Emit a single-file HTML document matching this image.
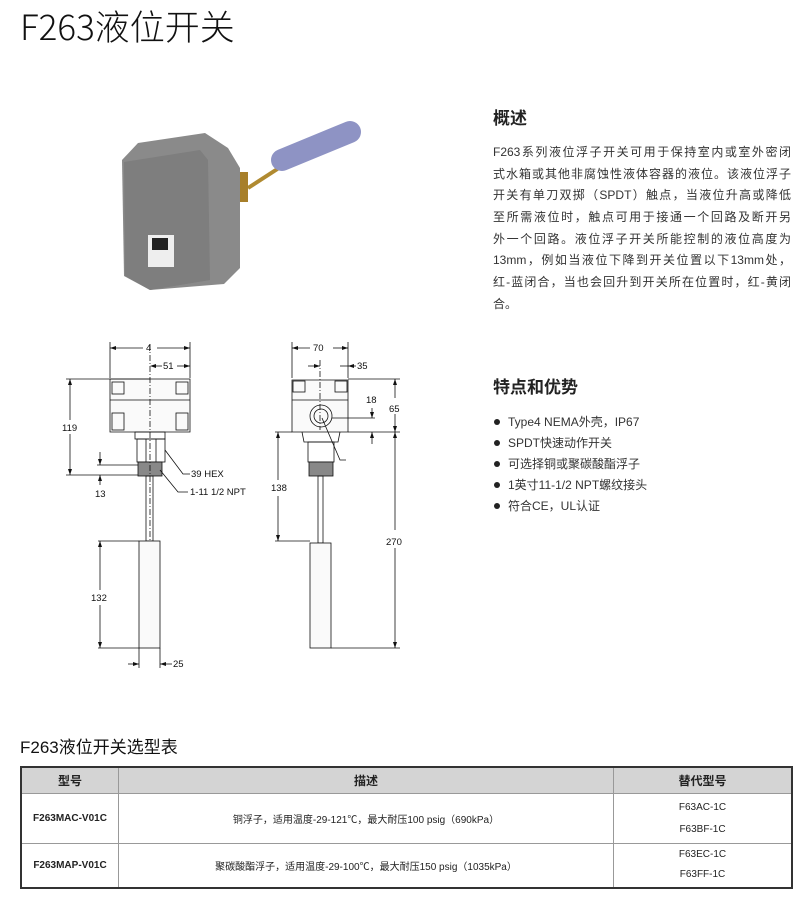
<!DOCTYPE html>
<html><head><meta charset="utf-8"><style>
body{margin:0;width:804px;height:898px;background:#fff;position:relative;font-family:"Liberation Sans","Noto Sans CJK SC",sans-serif;color:#222;overflow:hidden}
.a{position:absolute}
h1{position:absolute;left:20px;top:0px;margin:0;font-size:35px;font-weight:300;color:#111;font-family:"Noto Sans CJK SC","Liberation Sans",sans-serif}
.h{font-size:17px;font-weight:bold;color:#222}
.p div{height:21.7px;font-size:12px;line-height:21.7px;text-align:justify;text-align-last:justify;color:#333;white-space:nowrap}
.li{font-size:12px;color:#333;height:21px;line-height:21px}
.li span{display:inline-block;width:6px;height:6px;border-radius:3px;background:#222;margin:0 8px 1px 4px}
table{position:absolute;left:20px;top:766px;width:773px;border-collapse:collapse;border:2px solid #333;font-size:10px}
td,th{border:1px solid #999;text-align:center;padding:0}
th{background:#d4d4d4;height:25px;font-size:12px}
</style></head><body>
<h1>F263液位开关</h1>

<svg class="a" style="left:0;top:0" width="480" height="700">
<!-- photo -->
<g>
<line x1="248" y1="188" x2="282" y2="166" stroke="#b08a30" stroke-width="4"/>
<rect x="236" y="172" width="12" height="30" fill="#a77f2a"/>
<line x1="282" y1="160" x2="350" y2="132" stroke="#8e93c4" stroke-width="22" stroke-linecap="round"/>
<polygon points="138,143 205,133 228,148 240,168 240,268 224,284 150,290 124,276 122,160" fill="#8a8a8a"/>
<polygon points="124,162 200,150 208,160 210,280 150,290 125,276" fill="#7e7e7e"/>
<rect x="148" y="235" width="26" height="32" fill="#eee"/>
<rect x="152" y="238" width="16" height="12" fill="#222"/>
</g>
<g stroke="#111" stroke-width="0.8" fill="none">
<path d="M110 379 H190 V432 H110 Z" fill="#fafafa"/>
<rect x="112" y="382" width="12" height="12"/><rect x="176" y="382" width="12" height="12"/>
<rect x="112" y="413" width="12" height="17"/><rect x="176" y="413" width="12" height="17"/>
<line x1="110" y1="400" x2="190" y2="400"/>
<rect x="135" y="432" width="30" height="7"/>
<rect x="137" y="439" width="28" height="23"/>
<line x1="146" y1="439" x2="146" y2="462"/><line x1="156" y1="439" x2="156" y2="462"/>
<rect x="138" y="462" width="24" height="14" fill="#888"/>
<rect x="146" y="476" width="7" height="65"/>
<rect x="139" y="541" width="21" height="107" fill="#fafafa"/>
<line x1="150" y1="344" x2="150" y2="540" stroke-dasharray="6 2 1 2"/>
<line x1="110" y1="342" x2="110" y2="378"/><line x1="190" y1="342" x2="190" y2="378"/>
<line x1="110" y1="348" x2="143" y2="348"/><line x1="157" y1="348" x2="190" y2="348"/>
<line x1="152" y1="366" x2="162" y2="366"/><line x1="177" y1="366" x2="190" y2="366"/>
<line x1="66" y1="379" x2="150" y2="379"/><line x1="66" y1="475" x2="138" y2="475"/>
<line x1="70" y1="379" x2="70" y2="420"/><line x1="70" y1="434" x2="70" y2="475"/>
<line x1="97" y1="465" x2="138" y2="465"/>
<line x1="100" y1="452" x2="100" y2="465"/><line x1="100" y1="475" x2="100" y2="485"/>
<line x1="98" y1="541" x2="139" y2="541"/><line x1="98" y1="648" x2="139" y2="648"/>
<line x1="100" y1="541" x2="100" y2="590"/><line x1="100" y1="605" x2="100" y2="648"/>
<line x1="139" y1="648" x2="139" y2="668"/><line x1="160" y1="648" x2="160" y2="668"/>
<line x1="128" y1="664" x2="139" y2="664"/><line x1="160" y1="664" x2="172" y2="664"/>
<polyline points="165,450 183,474 190,474"/>
<polyline points="160,470 178,492 188,492"/>
<path d="M292 380 H348 V432 H292 Z" fill="#fafafa"/>
<rect x="293" y="381" width="12" height="11"/><rect x="335" y="381" width="12" height="11"/>
<line x1="292" y1="400" x2="348" y2="400"/>
<circle cx="321" cy="416" r="11"/><circle cx="321" cy="416" r="7"/>
<path d="M302 432 L304 442 H338 L340 432"/>
<rect x="308" y="442" width="26" height="20"/>
<rect x="309" y="462" width="24" height="14" fill="#888"/>
<rect x="318" y="476" width="5" height="67"/>
<rect x="310" y="543" width="21" height="105" fill="#fafafa"/>
<line x1="320" y1="360" x2="320" y2="430" stroke-dasharray="6 2 1 2"/>
<line x1="292" y1="342" x2="292" y2="378"/><line x1="348" y1="342" x2="348" y2="378"/>
<line x1="292" y1="348" x2="310" y2="348"/><line x1="333" y1="348" x2="348" y2="348"/>
<line x1="308" y1="366" x2="320" y2="366"/><line x1="340" y1="366" x2="356" y2="366"/>
<line x1="348" y1="379" x2="400" y2="379"/><line x1="348" y1="432" x2="400" y2="432"/>
<line x1="395" y1="379" x2="395" y2="398"/><line x1="395" y1="414" x2="395" y2="530"/><line x1="395" y1="548" x2="395" y2="648"/>
<line x1="331" y1="648" x2="400" y2="648"/>
<line x1="332" y1="418" x2="375" y2="418"/>
<line x1="372" y1="408" x2="372" y2="418"/><line x1="372" y1="432" x2="372" y2="444"/>
<line x1="275" y1="432" x2="292" y2="432"/><line x1="275" y1="541" x2="310" y2="541"/>
<line x1="278" y1="432" x2="278" y2="480"/><line x1="278" y1="496" x2="278" y2="541"/>
<polyline points="322,418 340,460 346,460"/>
</g>
<g fill="#111">
<path d="M110 348 l6 -2 v4z M190 348 l-6 -2 v4z M190 366 l-6 -2 v4z M150 366 l6 -2 v4z"/>
<path d="M70 379 l-2 6 h4z M70 475 l-2 -6 h4z M100 465 l-2 -6 h4z M100 475 l-2 6 h4z M100 541 l-2 6 h4z M100 648 l-2 -6 h4z M139 664 l-6 -2 v4z M160 664 l6 -2 v4z"/>
<path d="M292 348 l6 -2 v4z M348 348 l-6 -2 v4z M348 366 l6 -2 v4z M320 366 l-6 -2 v4z"/>
<path d="M395 379 l-2 6 h4z M395 432 l-2 -6 h4z M395 432 l-2 6 h4z M395 648 l-2 -6 h4z M372 418 l-2 -6 h4z M372 432 l-2 6 h4z M278 432 l-2 6 h4z M278 541 l-2 -6 h4z"/>
</g>
<g font-family="Liberation Sans,sans-serif" font-size="9.5" fill="#111">
<text x="146" y="351">4</text><text x="163" y="369">51</text>
<text x="62" y="431">119</text><text x="95" y="497">13</text><text x="91" y="601">132</text>
<text x="173" y="667">25</text>
<text x="191" y="477">39 HEX</text><text x="190" y="495">1-11 1/2 NPT</text>
<text x="313" y="351">70</text><text x="357" y="369">35</text>
<text x="366" y="403">18</text><text x="389" y="412">65</text>
<text x="271" y="491">138</text><text x="386" y="545">270</text>
</g>
</svg>

<div class="a h" style="left:493px;top:104px">概述</div>
<div class="a p" style="left:493px;top:142px;width:298px">
<div>F263系列液位浮子开关可用于保持室内或室外密闭</div>
<div>式水箱或其他非腐蚀性液体容器的液位。该液位浮子</div>
<div>开关有单刀双掷（SPDT）触点，当液位升高或降低</div>
<div>至所需液位时，触点可用于接通一个回路及断开另</div>
<div>外一个回路。液位浮子开关所能控制的液位高度为</div>
<div>13mm，例如当液位下降到开关位置以下13mm处，</div>
<div>红-蓝闭合，当也会回升到开关所在位置时，红-黄闭</div>
<div style="text-align-last:left">合。</div>
</div>
<div class="a h" style="left:493px;top:373px">特点和优势</div>
<div class="a" style="left:490px;top:412px">
<div class="li"><span></span>Type4 NEMA外壳，IP67</div>
<div class="li"><span></span>SPDT快速动作开关</div>
<div class="li"><span></span>可选择铜或聚碳酸酯浮子</div>
<div class="li"><span></span>1英寸11-1/2 NPT螺纹接头</div>
<div class="li"><span></span>符合CE，UL认证</div>
</div>

<div class="a" style="left:20px;top:733px;font-size:17px;color:#111">F263液位开关选型表</div>
<table>
<tr><th style="width:96px">型号</th><th style="width:494px">描述</th><th>替代型号</th></tr>
<tr style="height:50px"><td style="font-weight:bold">F263MAC-V01C</td><td>铜浮子，适用温度-29-121℃，最大耐压100 psig（690kPa）</td><td style="line-height:22px">F63AC-1C<br>F63BF-1C</td></tr>
<tr style="height:44px"><td style="font-weight:bold">F263MAP-V01C</td><td>聚碳酸酯浮子，适用温度-29-100℃，最大耐压150 psig（1035kPa）</td><td style="line-height:20px">F63EC-1C<br>F63FF-1C</td></tr>
</table>
</body></html>
